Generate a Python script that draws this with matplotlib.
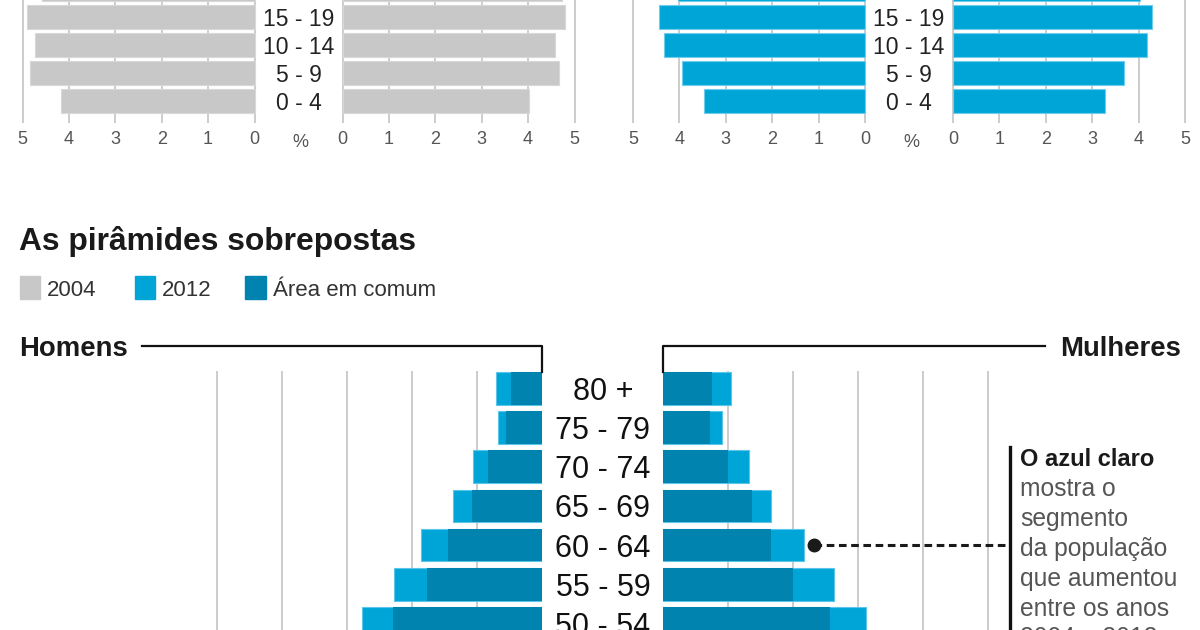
import matplotlib
matplotlib.use('Agg')
import matplotlib.pyplot as plt
import numpy as np
from matplotlib.lines import Line2D
from matplotlib.patches import Rectangle
from matplotlib.transforms import blended_transform_factory

plt.rcParams['font.family'] = ['Liberation Sans', 'DejaVu Sans']

# pirâmides pequenas (topo) - só as faixas de baixo aparecem
top_groups = ['0 - 4', '5 - 9', '10 - 14', '15 - 19', '20 - 24']
men_2004_top = [4.18, 4.83, 4.73, 4.91, 4.57]
women_2004_top = [4.01, 4.67, 4.59, 4.80, 4.74]
men_2012_top = [3.48, 3.95, 4.33, 4.43, 4.03]
women_2012_top = [3.28, 3.68, 4.19, 4.28, 4.02]

# pirâmides sobrepostas - só as faixas de cima aparecem
bot_groups = ['50 - 54', '55 - 59', '60 - 64', '65 - 69', '70 - 74', '75 - 79', '80 +']
men_2004 = [2.29, 1.76, 1.44, 1.07, 0.83, 0.55, 0.47]
men_2012 = [2.76, 2.27, 1.86, 1.37, 1.06, 0.67, 0.70]
women_2004 = [2.57, 2.00, 1.65, 1.36, 0.99, 0.72, 0.75]
women_2012 = [3.12, 2.62, 2.16, 1.65, 1.32, 0.90, 1.04]

note_lines = ['O azul claro', 'mostra o', 'segmento', 'da população',
              'que aumentou', 'entre os anos', '2004 e 2012']

GRAY = '#c8c8c8'
LIGHT = '#00a5d8'
DARK = '#0083ae'
GRID = '#cccccc'

W, H = 1200, 630
fig = plt.figure(figsize=(12, 6.3), dpi=100)


def fx(px):
    return px / W


def fy(py):
    return 1 - py / H


def box(left, top, right, bottom):
    return fig.add_axes([left / W, 1 - bottom / H, (right - left) / W, (bottom - top) / H])


def clean(ax):
    for s in ax.spines.values():
        s.set_visible(False)
    ax.patch.set_visible(False)
    ax.set_yticks([])
    ax.grid(axis='x', color=GRID, lw=1.4)
    ax.set_axisbelow(True)


# ---- topo ----
ut = 46.4
def top_half(zero, side, vals, color, edge):
    if side == 'left':
        ax = box(zero - 5.1 * ut, -40, zero + 0.05 * ut, 123)
        ax.set_xlim(5.1, -0.05)
    else:
        ax = box(zero - 0.05 * ut, -40, zero + 5.1 * ut, 123)
        ax.set_xlim(-0.05, 5.1)
    ax.set_ylim(-0.786, 5.036)
    ax.barh(np.arange(len(vals)), vals, height=0.85, color=color,
            edgecolor=edge, lw=0.8, zorder=2)
    clean(ax)
    ax.set_xticks(range(6))
    ax.tick_params(length=0, pad=6, labelsize=13, labelcolor='#555555')
    return ax

axL = top_half(254.5, 'left', men_2004_top, GRAY, '#d8d8d8')
top_half(342.5, 'right', women_2004_top, GRAY, '#d8d8d8')
axR = top_half(865, 'left', men_2012_top, LIGHT, '#6fcdec')
top_half(953, 'right', women_2012_top, LIGHT, '#6fcdec')

for ax, cx in [(axL, 298.5), (axR, 909)]:
    tr = blended_transform_factory(fig.transFigure, ax.transData)
    # a faixa 20 - 24 fica cortada no alto, sem rótulo visível
    for i, g in enumerate(top_groups[:4]):
        ax.text(fx(cx), i, g, transform=tr, ha='center', va='center_baseline',
                fontsize=16.5, color='#222222')
    fig.text(fx(cx + 2), fy(140.5), '%', ha='center', va='center_baseline',
             fontsize=13, color='#555555')

# ---- título e legenda ----
fig.text(fx(19), fy(238), 'As pirâmides sobrepostas', fontsize=22.9,
         fontweight='bold', color='#1a1a1a', va='center_baseline')
for x0, x1, c, lab in [(20, 40, GRAY, '2004'), (135, 155, LIGHT, '2012'),
                       (245, 266, DARK, 'Área em comum')]:
    fig.patches.append(Rectangle((fx(x0), fy(299)), (x1 - x0) / W, 23 / H,
                                 transform=fig.transFigure, color=c))
    fig.text(fx(x1 + 7), fy(288), lab, fontsize=16, color='#333333',
             va='center_baseline')

# ---- pirâmides sobrepostas ----
ub = 64.9
y = np.arange(len(bot_groups))
axBL = box(541.5 - 5.1 * ub, 371, 541.5, 680)
axBL.set_xlim(5.1, 0)
axBR = box(663.5, 371, 663.5 + 5.1 * ub, 680)
axBR.set_xlim(0, 5.1)
for ax, v04, v12 in [(axBL, men_2004, men_2012), (axBR, women_2004, women_2012)]:
    ax.set_ylim(-1.441, 6.44)
    ax.barh(y, v04, height=0.83, color=GRAY, zorder=2)
    ax.barh(y, v12, height=0.83, color=LIGHT, edgecolor='#5cc6ea', lw=0.8, zorder=3)
    ax.barh(y, np.minimum(v04, v12), height=0.83, color=DARK, zorder=4)
    clean(ax)
    ax.set_xticks([1, 2, 3, 4, 5])
    ax.tick_params(length=0, labelbottom=False)

tr = blended_transform_factory(fig.transFigure, axBL.transData)
for i, g in enumerate(bot_groups):
    axBL.text(fx(603), i, g, transform=tr, ha='center', va='center_baseline',
              fontsize=22, color='#111111')

fig.text(fx(19), fy(346), 'Homens', fontsize=19.8, fontweight='bold',
         color='#1a1a1a', va='center_baseline')
fig.text(fx(1181), fy(346), 'Mulheres', fontsize=19.8, fontweight='bold',
         color='#1a1a1a', va='center_baseline', ha='right')
fig.add_artist(Line2D([fx(142), fx(541.5), fx(541.5)], [fy(346), fy(346), fy(372)],
                      transform=fig.transFigure, color='#111111', lw=1.6))
fig.add_artist(Line2D([fx(1045), fx(663.5), fx(663.5)], [fy(346), fy(346), fy(372)],
                      transform=fig.transFigure, color='#111111', lw=1.6))

# destaque 60 - 64
dot_x = women_2012[2] + 0.16
axBR.plot([dot_x, (1007 - 663.5) / ub], [2, 2], color='#1a1a1a', lw=2.2,
          dashes=(2.5, 1.5), clip_on=False, zorder=5)
axBR.plot(dot_x, 2, 'o', color='#1a1a1a', ms=9, clip_on=False, zorder=6)
fig.add_artist(Line2D([fx(1010), fx(1010)], [fy(447), fy(660)],
                      transform=fig.transFigure, color='#111111', lw=2.4))
for k, line in enumerate(note_lines):
    fig.text(fx(1020), fy(457 + 29.8 * k), line, va='center_baseline',
             fontsize=17 if k == 0 else 17.7,
             fontweight='bold' if k == 0 else 'normal',
             color='#1a1a1a' if k == 0 else '#555555')

fig.savefig('out.png', dpi=100)
